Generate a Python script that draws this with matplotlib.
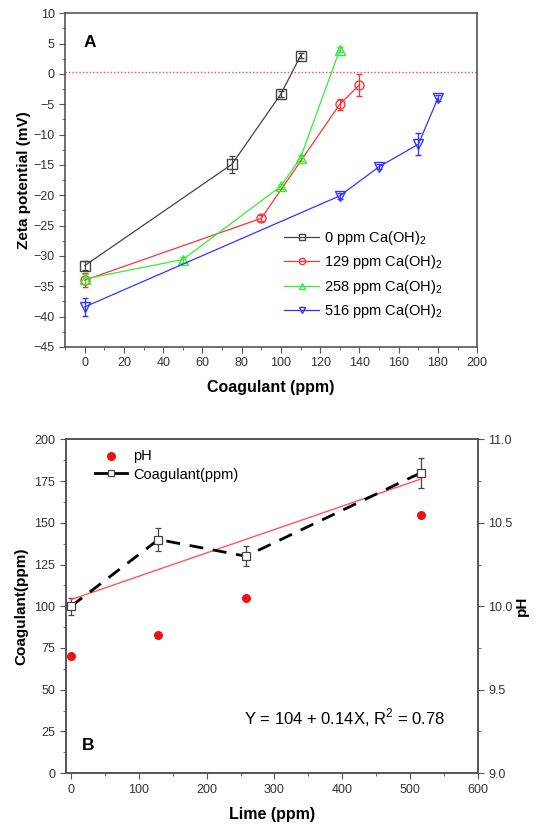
import numpy as np
import matplotlib.pyplot as plt
from matplotlib.ticker import MultipleLocator

plt.rcParams['font.family'] = 'Liberation Sans'
plt.rcParams['mathtext.fontset'] = 'custom'
plt.rcParams['mathtext.rm'] = 'Liberation Sans'

# --- Panel A: zeta potential vs coagulant dose ---
dose_0 = [0, 75, 100, 110]
zeta_0 = [-31.6, -14.9, -3.3, 3.0]
err_0 = [0.8, 1.4, 0.5, 0.4]

dose_129 = [0, 90, 130, 140]
zeta_129 = [-34.0, -23.8, -5.0, -1.8]
err_129 = [1.2, 0.5, 0.9, 1.8]

dose_258 = [0, 50, 100, 110, 130]
zeta_258 = [-33.8, -30.6, -18.5, -13.8, 4.0]
err_258 = [0.8, 0.5, 0.4, 0.5, 0.4]

dose_516 = [0, 130, 150, 170, 180]
zeta_516 = [-38.4, -20.1, -15.3, -11.6, -4.0]
err_516 = [1.5, 0.5, 0.4, 1.8, 0.5]

zero_line = 0.3

# --- Panel B: coagulant demand and pH vs lime dose ---
lime = [0, 129, 258, 516]
coag = [100, 140, 130, 180]
coag_err = [5, 7, 6, 9]
ph = [9.70, 9.83, 10.05, 10.55]
fit_a, fit_b, fit_r2 = 104, 0.14, 0.78

axis_col = '#555555'
tick_col = '#333333'

fig = plt.figure(figsize=(5.38, 8.26), dpi=100)

def style_axes(ax):
    for s in ax.spines.values():
        s.set_color(axis_col)
        s.set_linewidth(1.2)
    ax.tick_params(which='both', direction='out', colors=axis_col,
                   labelcolor=tick_col, labelsize=9)
    ax.tick_params(which='major', length=4)
    ax.tick_params(which='minor', length=2.5)

# ---------------- A ----------------
axA = fig.add_axes([0.121, 0.580, 0.766, 0.404])
series = [
    (dose_0, zeta_0, err_0, '#444444', 's', '0 ppm Ca(OH)$_2$'),
    (dose_129, zeta_129, err_129, '#ff3333', 'o', '129 ppm Ca(OH)$_2$'),
    (dose_258, zeta_258, err_258, '#33ee33', '^', '258 ppm Ca(OH)$_2$'),
    (dose_516, zeta_516, err_516, '#3333ff', 'v', '516 ppm Ca(OH)$_2$'),
]
for x, y, e, c, m, lab in series:
    axA.errorbar(x, y, yerr=e, color=c, marker=m, ms=6.5, mfc='none', mec=c,
                 mew=1.0, lw=0.9, elinewidth=0.9, capsize=2.5)
    axA.plot([], [], color=c, marker=m, ms=4.5, mfc='none', mec=c,
             mew=1.0, lw=0.9, label=lab)

axA.axhline(zero_line, color='#ff4444', ls=(0, (1, 1.5)), lw=1.0)
axA.set_xlim(-10, 200)
axA.set_ylim(-45, 10)
axA.xaxis.set_major_locator(MultipleLocator(20))
axA.xaxis.set_minor_locator(MultipleLocator(10))
axA.yaxis.set_major_locator(MultipleLocator(5))
axA.yaxis.set_minor_locator(MultipleLocator(2.5))
style_axes(axA)
axA.set_xlabel('Coagulant (ppm)', fontsize=11.5, fontweight='bold', labelpad=8)
axA.set_ylabel('Zeta potential (mV)', fontsize=11, fontweight='bold', labelpad=2)
axA.text(0.045, 0.913, 'A', transform=axA.transAxes, fontsize=12.5,
         fontweight='bold', va='center')
axA.legend(loc='lower left', bbox_to_anchor=(0.5, 0.04), frameon=False,
           fontsize=10.5, handlelength=2.4, handletextpad=0.3,
           labelspacing=0.45)

# ---------------- B ----------------
axB = fig.add_axes([0.122, 0.064, 0.766, 0.404])
axB.errorbar(lime, coag, yerr=coag_err, color='black', ls=(0, (5, 3.5)), lw=2.0,
             marker='s', ms=6, mfc='white', mec='#444444', mew=0.9,
             ecolor='#444444', elinewidth=0.9, capsize=2.5)
axB.plot([], [], color='black', lw=2.0, marker='s', ms=5, mfc='white',
         mec='#444444', mew=0.9, label='Coagulant(ppm)')
xf = np.array([lime[0], lime[-1]])
axB.plot(xf, fit_a + fit_b * xf, color='#ff5555', lw=1.0)

axB.set_xlim(-8, 600)
axB.set_ylim(0, 200)
axB.xaxis.set_major_locator(MultipleLocator(100))
axB.xaxis.set_minor_locator(MultipleLocator(50))
axB.yaxis.set_major_locator(MultipleLocator(25))
axB.yaxis.set_minor_locator(MultipleLocator(12.5))
style_axes(axB)
axB.set_xlabel('Lime (ppm)', fontsize=11.5, fontweight='bold', labelpad=8)
axB.set_ylabel('Coagulant(ppm)', fontsize=11, fontweight='bold', labelpad=4)

axP = axB.twinx()
axP.scatter(lime, ph, color='#ee1111', s=30, zorder=5, label='pH')
axP.set_ylim(9.0, 11.0)
axP.yaxis.set_major_locator(MultipleLocator(0.5))
axP.yaxis.set_minor_locator(MultipleLocator(0.25))
axP.yaxis.set_major_formatter(plt.FormatStrFormatter('%.1f'))
style_axes(axP)
axP.set_ylabel('pH', fontsize=11, fontweight='bold', labelpad=2)

axB.text(0.04, 0.084, 'B', transform=axB.transAxes, fontsize=12.5,
         fontweight='bold', va='center')
axB.text(0.677, 0.165, 'Y = %d + %.2fX, R$^2$ = %.2f' % (fit_a, fit_b, fit_r2),
         transform=axB.transAxes, ha='center', va='center', fontsize=12)

h1, l1 = axP.get_legend_handles_labels()
h2, l2 = axB.get_legend_handles_labels()
axP.legend(h1 + h2, l1 + l2, loc='upper left', bbox_to_anchor=(0.04, 1.01),
           frameon=False, fontsize=10.5, handlelength=2.2, handletextpad=0.4,
           labelspacing=0.3)

fig.savefig('out.png', dpi=100)
